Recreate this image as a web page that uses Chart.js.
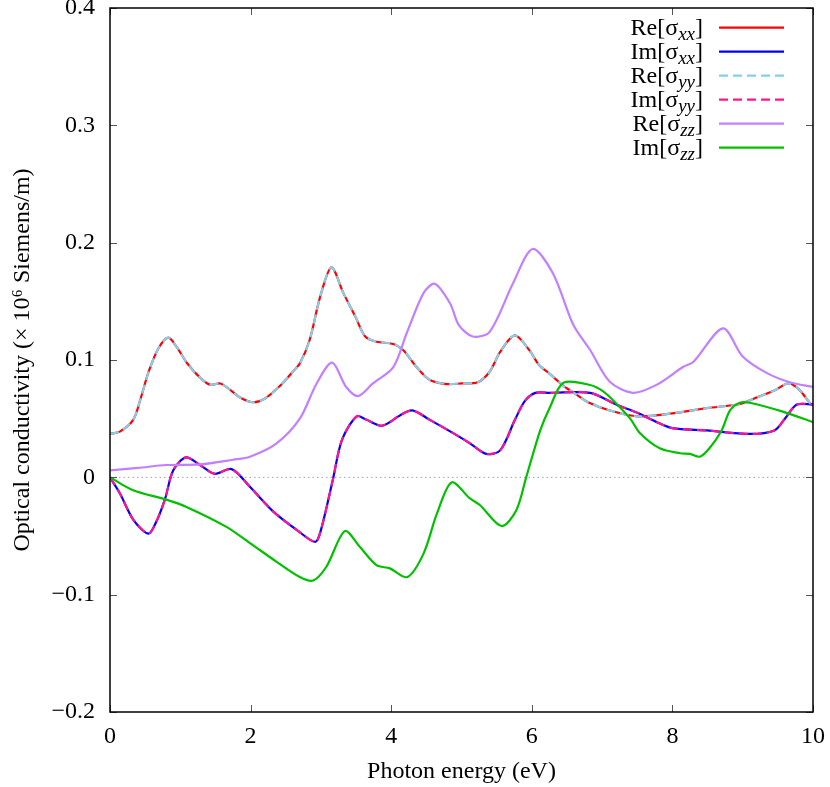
<!DOCTYPE html>
<html>
<head>
<meta charset="utf-8">
<script src="https://cdn.jsdelivr.net/npm/chart.js@4.4.1/dist/chart.umd.min.js"></script>
<style>
  body { margin: 0; background: #fff; }
  #wrap { position: relative; width: 830px; height: 787px; font-family: "Liberation Serif", "Times New Roman", serif; }
  .row { position: absolute; left: 0; width: 830px; height: 24px; line-height: 24px; font-size: 24px; color: #000; }
  .row .txt { position: absolute; right: 127px; top: 0; white-space: nowrap; }
  .row .txt i { font-size: 19px; position: relative; top: 5px; }
  .row svg { position: absolute; left: 719px; top: 0; }
</style>
</head>
<body>
<div id="wrap">
  <canvas id="cond" width="830" height="787"></canvas>
  <div id="legend"></div>
</div>
<script>
// Photon energy (eV) / conductivity (10^6 S/m)
const reXXe = [0, 0.14, 0.33, 0.43, 0.55, 0.69, 0.83, 0.95, 1.1, 1.28, 1.42, 1.57, 1.7, 1.85, 2.03, 2.2, 2.42, 2.6, 2.7, 2.84, 2.99, 3.15, 3.32, 3.49, 3.63, 3.79, 4.03, 4.17, 4.36, 4.55, 4.79, 5.0, 5.23, 5.4, 5.55, 5.76, 5.97, 6.1, 6.26, 6.45, 6.6, 6.8, 7.11, 7.5, 8.0, 8.49, 8.96, 9.2, 9.45, 9.65, 9.8, 9.96, 10];
const reXX = [0.037, 0.039, 0.049, 0.066, 0.090, 0.110, 0.119, 0.111, 0.097, 0.085, 0.079, 0.080, 0.075, 0.068, 0.064, 0.067, 0.078, 0.090, 0.097, 0.117, 0.154, 0.179, 0.157, 0.137, 0.120, 0.1156, 0.1136, 0.1085, 0.094, 0.083, 0.0795, 0.080, 0.081, 0.090, 0.107, 0.121, 0.108, 0.096, 0.088, 0.078, 0.072, 0.064, 0.057, 0.052, 0.0545, 0.059, 0.0625, 0.068, 0.074, 0.080, 0.075, 0.063, 0.062];

const imXXe = [0, 0.14, 0.33, 0.545, 0.65, 0.78, 0.9, 1.08, 1.28, 1.49, 1.73, 1.99, 2.32, 2.66, 2.92, 3.0, 3.17, 3.3, 3.51, 3.65, 3.87, 4.13, 4.3, 4.55, 4.93, 5.12, 5.35, 5.55, 5.76, 5.9, 6.05, 6.26, 6.83, 7.2, 7.5, 7.78, 8.0, 8.49, 9.1, 9.45, 9.6, 9.77, 10];
const imXX = [0, -0.0136, -0.036, -0.048, -0.039, -0.019, 0.006, 0.017, 0.0105, 0.003, 0.007, -0.008, -0.029, -0.045, -0.055, -0.045, -0.002, 0.032, 0.052, 0.049, 0.044, 0.053, 0.057, 0.049, 0.036, 0.029, 0.020, 0.023, 0.049, 0.065, 0.072, 0.072, 0.072, 0.062, 0.055, 0.047, 0.042, 0.040, 0.037, 0.040, 0.050, 0.062, 0.062];

// yy components coincide with xx on the plot
const reYYe = reXXe, reYY = reXX;
const imYYe = imXXe, imYY = imXX;

const reZZe = [0, 0.4, 0.8, 1.28, 1.75, 1.99, 2.37, 2.7, 2.94, 3.16, 3.36, 3.53, 3.74, 4.03, 4.22, 4.46, 4.62, 4.84, 4.96, 5.16, 5.4, 5.73, 6.01, 6.3, 6.59, 6.83, 7.11, 7.44, 7.78, 8.15, 8.3, 8.72, 9.0, 9.34, 9.67, 10];
const reZZ = [0.006, 0.008, 0.0105, 0.011, 0.015, 0.0176, 0.029, 0.050, 0.080, 0.0977, 0.077, 0.0693, 0.080, 0.094, 0.1228, 0.157, 0.165, 0.148, 0.130, 0.120, 0.124, 0.165, 0.1946, 0.174, 0.130, 0.1085, 0.0815, 0.072, 0.079, 0.094, 0.0985, 0.127, 0.103, 0.089, 0.081, 0.077];

const imZZe = [0, 0.33, 0.8, 1.08, 1.65, 1.99, 2.37, 2.7, 2.89, 3.08, 3.34, 3.55, 3.79, 3.98, 4.23, 4.46, 4.65, 4.86, 5.12, 5.26, 5.57, 5.78, 5.92, 6.12, 6.26, 6.45, 6.83, 7.02, 7.2, 7.4, 7.54, 7.82, 8.11, 8.25, 8.39, 8.53, 8.7, 8.82, 8.96, 9.1, 9.57, 10];
const imZZ = [0, -0.011, -0.019, -0.025, -0.042, -0.056, -0.072, -0.085, -0.088, -0.076, -0.0458, -0.059, -0.0748, -0.0776, -0.085, -0.065, -0.031, -0.0043, -0.018, -0.0236, -0.0415, -0.028, 0, 0.040, 0.060, 0.0806, 0.0787, 0.073, 0.063, 0.050, 0.0375, 0.0247, 0.0205, 0.020, 0.0176, 0.025, 0.040, 0.057, 0.0636, 0.0636, 0.056, 0.047];

const seriesPart = ['Re', 'Im', 'Re', 'Im', 'Re', 'Im'];
const seriesSub = ['xx', 'xx', 'yy', 'yy', 'zz', 'zz'];
const xTicks = [0, 2, 4, 6, 8, 10];
const yTicks = [-0.2, -0.1, 0, 0.1, 0.2, 0.3, 0.4];

const allX = [reXXe, imXXe, reYYe, imYYe, reZZe, imZZe];
const allY = [reXX, imXX, reYY, imYY, reZZ, imZZ];
const colors = ['#ff0000', '#0000ff', '#87ceeb', '#ff1493', '#c080ff', '#00c000'];
const dashes = [[], [], [9, 5], [9, 5], [], []];

const serif = '"Liberation Serif", "Times New Roman", serif';

const datasets = allY.map((ys, i) => ({
  label: seriesPart[i] + '[σ' + seriesSub[i] + ']',
  data: ys.map((v, j) => ({ x: allX[i][j], y: v })),
  borderColor: colors[i],
  borderDash: dashes[i],
  borderWidth: 2.2,
  pointRadius: 0,
  tension: 0.3,
  fill: false,
  order: 6 - i
}));

// box, inward ticks and the dotted zero line, like gnuplot
const framePlugin = {
  id: 'frame',
  beforeDatasetsDraw(chart) {
    const { ctx, chartArea: a, scales: { y } } = chart;
    const y0 = y.getPixelForValue(0);
    ctx.save();
    ctx.strokeStyle = '#a0a0a0';
    ctx.lineWidth = 1;
    ctx.setLineDash([1.5, 3]);
    ctx.beginPath();
    ctx.moveTo(a.left, y0);
    ctx.lineTo(a.right, y0);
    ctx.stroke();
    ctx.restore();
  },
  afterDatasetsDraw(chart) {
    const { ctx, chartArea: a, scales: { x, y } } = chart;
    const len = 7;
    ctx.save();
    ctx.strokeStyle = '#555';
    ctx.lineWidth = 1;
    ctx.beginPath();
    xTicks.forEach(v => {
      const px = Math.round(x.getPixelForValue(v)) + 0.5;
      ctx.moveTo(px, a.bottom); ctx.lineTo(px, a.bottom - len);
      ctx.moveTo(px, a.top); ctx.lineTo(px, a.top + len);
    });
    yTicks.forEach(v => {
      const py = Math.round(y.getPixelForValue(v)) + 0.5;
      ctx.moveTo(a.left, py); ctx.lineTo(a.left + len, py);
      ctx.moveTo(a.right, py); ctx.lineTo(a.right - len, py);
    });
    ctx.stroke();
    ctx.strokeStyle = '#000';
    ctx.lineWidth = 1.5;
    ctx.strokeRect(a.left, a.top, a.right - a.left, a.bottom - a.top);
    ctx.restore();
  }
};

new Chart(document.getElementById('cond'), {
  type: 'line',
  data: { datasets: datasets },
  options: {
    responsive: false,
    animation: false,
    layout: { padding: { top: 8, right: 17, left: 0, bottom: 0 } },
    plugins: { legend: { display: false }, tooltip: { enabled: false } },
    scales: {
      x: {
        type: 'linear',
        min: 0, max: 10,
        grid: { display: false, drawTicks: false },
        border: { display: false },
        afterBuildTicks: s => { s.ticks = xTicks.map(v => ({ value: v })); },
        afterFit: s => { s.height = 75; s.paddingLeft = 0; s.paddingRight = 0; },
        ticks: {
          padding: 10, color: '#000', maxRotation: 0,
          font: { family: serif, size: 24 },
          callback: v => String(v)
        },
        title: {
          display: true, text: 'Photon energy (eV)', color: '#000',
          font: { family: serif, size: 24 }, padding: { top: 0, bottom: 1 }
        }
      },
      y: {
        min: -0.2, max: 0.4,
        grid: { display: false, drawTicks: false },
        border: { display: false },
        afterBuildTicks: s => { s.ticks = yTicks.map(v => ({ value: v })); },
        afterFit: s => { s.width = 110; s.paddingTop = 0; s.paddingBottom = 0; },
        ticks: {
          padding: 15, color: '#000',
          font: { family: serif, size: 24 },
          callback: v => v === 0 ? '0' : (v < 0 ? '\u2212' : '') + Math.abs(v).toFixed(1)
        },
        title: {
          display: true, text: 'Optical conductivity (\u00d7 10\u2076 Siemens/m)', color: '#000',
          font: { family: serif, size: 24 }, padding: { top: 8, bottom: 0 }
        }
      }
    }
  },
  plugins: [framePlugin]
});

// legend with real subscripts
const legend = document.getElementById('legend');
seriesPart.forEach((p, i) => {
  const row = document.createElement('div');
  row.className = 'row';
  row.style.top = (15 + 24 * i) + 'px';
  row.innerHTML = '<span class="txt">' + p + '[σ<i>' + seriesSub[i] + '</i>]</span>' +
    '<svg width="66" height="24"><line x1="0" y1="12.7" x2="65" y2="12.7" stroke="' + colors[i] +
    '" stroke-width="2.2" stroke-dasharray="' + (dashes[i].length ? dashes[i].join(' ') : 'none') + '"/></svg>';
  legend.appendChild(row);
});
</script>
</body>
</html>
